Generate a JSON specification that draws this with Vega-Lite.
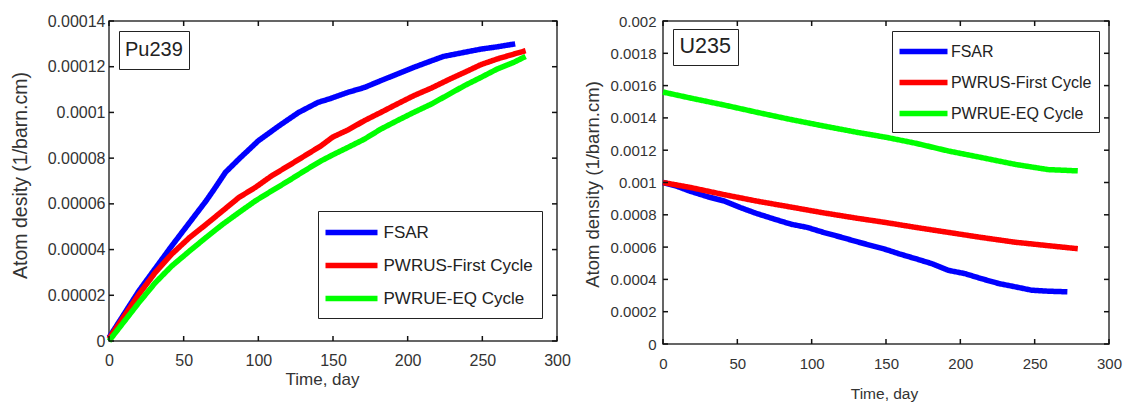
{
  "$schema": "https://vega.github.io/schema/vega-lite/v6.json",
  "background": "white",
  "padding": {"left": 9, "top": 12, "right": 5, "bottom": 5},
  "config": {
    "font": "Liberation Sans",
    "view": {"stroke": "#333", "strokeWidth": 1.5},
    "axis": {"grid": false, "domain": false, "ticks": false, "labelFlush": false, "labelColor": "#333", "titleColor": "#333", "titleFontWeight": "normal", "labelFont": "Liberation Sans", "titleFont": "Liberation Sans"},
    "legend": {"labelColor": "#222", "strokeColor": "#222", "fillColor": "white", "labelLimit": 400}
  },
  "datasets": {
    "xt": [{"t": 0}, {"t": 50}, {"t": 100}, {"t": 150}, {"t": 200}, {"t": 250}, {"t": 300}],
    "ypu": [{"v": 0}, {"v": 0.00002}, {"v": 0.00004}, {"v": 0.00006}, {"v": 0.00008}, {"v": 0.0001}, {"v": 0.00012}, {"v": 0.00014}],
    "yu": [{"v": 0}, {"v": 0.0002}, {"v": 0.0004}, {"v": 0.0006}, {"v": 0.0008}, {"v": 0.001}, {"v": 0.0012}, {"v": 0.0014}, {"v": 0.0016}, {"v": 0.0018}, {"v": 0.002}],
    "pu": [
      {"s": "FSAR", "t": 0, "v": 0.0000015}, {"s": "FSAR", "t": 20, "v": 0.0000219}, {"s": "FSAR", "t": 42, "v": 0.0000416}, {"s": "FSAR", "t": 65, "v": 0.0000613}, {"s": "FSAR", "t": 70, "v": 0.000066}, {"s": "FSAR", "t": 78, "v": 0.0000738}, {"s": "FSAR", "t": 87, "v": 0.0000796}, {"s": "FSAR", "t": 100, "v": 0.0000876}, {"s": "FSAR", "t": 114, "v": 0.0000942}, {"s": "FSAR", "t": 127, "v": 0.0001}, {"s": "FSAR", "t": 140, "v": 0.0001044}, {"s": "FSAR", "t": 148, "v": 0.000106}, {"s": "FSAR", "t": 160, "v": 0.0001088}, {"s": "FSAR", "t": 171, "v": 0.0001109}, {"s": "FSAR", "t": 182, "v": 0.0001139}, {"s": "FSAR", "t": 193, "v": 0.0001168}, {"s": "FSAR", "t": 204, "v": 0.0001197}, {"s": "FSAR", "t": 216, "v": 0.0001226}, {"s": "FSAR", "t": 224, "v": 0.0001245}, {"s": "FSAR", "t": 238, "v": 0.0001263}, {"s": "FSAR", "t": 249, "v": 0.0001277}, {"s": "FSAR", "t": 260, "v": 0.0001287}, {"s": "FSAR", "t": 272, "v": 0.00013},
      {"s": "PWRUS-First Cycle", "t": 0, "v": 0.000001}, {"s": "PWRUS-First Cycle", "t": 20, "v": 0.0000204}, {"s": "PWRUS-First Cycle", "t": 31, "v": 0.00003}, {"s": "PWRUS-First Cycle", "t": 42, "v": 0.000038}, {"s": "PWRUS-First Cycle", "t": 54, "v": 0.0000453}, {"s": "PWRUS-First Cycle", "t": 65, "v": 0.000051}, {"s": "PWRUS-First Cycle", "t": 76, "v": 0.0000569}, {"s": "PWRUS-First Cycle", "t": 87, "v": 0.0000628}, {"s": "PWRUS-First Cycle", "t": 98, "v": 0.0000672}, {"s": "PWRUS-First Cycle", "t": 109, "v": 0.0000723}, {"s": "PWRUS-First Cycle", "t": 120, "v": 0.0000766}, {"s": "PWRUS-First Cycle", "t": 131, "v": 0.000081}, {"s": "PWRUS-First Cycle", "t": 142, "v": 0.0000854}, {"s": "PWRUS-First Cycle", "t": 150, "v": 0.0000893}, {"s": "PWRUS-First Cycle", "t": 160, "v": 0.0000923}, {"s": "PWRUS-First Cycle", "t": 171, "v": 0.0000964}, {"s": "PWRUS-First Cycle", "t": 182, "v": 0.0001}, {"s": "PWRUS-First Cycle", "t": 193, "v": 0.0001037}, {"s": "PWRUS-First Cycle", "t": 204, "v": 0.0001073}, {"s": "PWRUS-First Cycle", "t": 216, "v": 0.0001107}, {"s": "PWRUS-First Cycle", "t": 227, "v": 0.0001142}, {"s": "PWRUS-First Cycle", "t": 238, "v": 0.0001175}, {"s": "PWRUS-First Cycle", "t": 249, "v": 0.0001209}, {"s": "PWRUS-First Cycle", "t": 260, "v": 0.0001234}, {"s": "PWRUS-First Cycle", "t": 271, "v": 0.0001255}, {"s": "PWRUS-First Cycle", "t": 279, "v": 0.000127},
      {"s": "PWRUE-EQ Cycle", "t": 0, "v": 0}, {"s": "PWRUE-EQ Cycle", "t": 20, "v": 0.0000168}, {"s": "PWRUE-EQ Cycle", "t": 31, "v": 0.0000255}, {"s": "PWRUE-EQ Cycle", "t": 42, "v": 0.0000328}, {"s": "PWRUE-EQ Cycle", "t": 54, "v": 0.0000394}, {"s": "PWRUE-EQ Cycle", "t": 65, "v": 0.0000453}, {"s": "PWRUE-EQ Cycle", "t": 76, "v": 0.000051}, {"s": "PWRUE-EQ Cycle", "t": 87, "v": 0.0000562}, {"s": "PWRUE-EQ Cycle", "t": 98, "v": 0.0000613}, {"s": "PWRUE-EQ Cycle", "t": 109, "v": 0.0000657}, {"s": "PWRUE-EQ Cycle", "t": 120, "v": 0.00007}, {"s": "PWRUE-EQ Cycle", "t": 131, "v": 0.0000745}, {"s": "PWRUE-EQ Cycle", "t": 142, "v": 0.0000788}, {"s": "PWRUE-EQ Cycle", "t": 150, "v": 0.0000815}, {"s": "PWRUE-EQ Cycle", "t": 160, "v": 0.0000847}, {"s": "PWRUE-EQ Cycle", "t": 171, "v": 0.0000883}, {"s": "PWRUE-EQ Cycle", "t": 182, "v": 0.0000927}, {"s": "PWRUE-EQ Cycle", "t": 193, "v": 0.0000964}, {"s": "PWRUE-EQ Cycle", "t": 204, "v": 0.0001}, {"s": "PWRUE-EQ Cycle", "t": 216, "v": 0.0001037}, {"s": "PWRUE-EQ Cycle", "t": 227, "v": 0.0001077}, {"s": "PWRUE-EQ Cycle", "t": 238, "v": 0.0001117}, {"s": "PWRUE-EQ Cycle", "t": 249, "v": 0.0001153}, {"s": "PWRUE-EQ Cycle", "t": 260, "v": 0.000119}, {"s": "PWRUE-EQ Cycle", "t": 271, "v": 0.0001219}, {"s": "PWRUE-EQ Cycle", "t": 279, "v": 0.0001245}
    ],
    "u": [
      {"s": "FSAR", "t": 0, "v": 0.001}, {"s": "FSAR", "t": 9, "v": 0.000978}, {"s": "FSAR", "t": 18, "v": 0.000947}, {"s": "FSAR", "t": 30, "v": 0.000912}, {"s": "FSAR", "t": 41, "v": 0.000886}, {"s": "FSAR", "t": 52, "v": 0.000845}, {"s": "FSAR", "t": 63, "v": 0.000808}, {"s": "FSAR", "t": 75, "v": 0.000773}, {"s": "FSAR", "t": 86, "v": 0.000742}, {"s": "FSAR", "t": 97, "v": 0.000722}, {"s": "FSAR", "t": 108, "v": 0.000691}, {"s": "FSAR", "t": 120, "v": 0.000661}, {"s": "FSAR", "t": 131, "v": 0.000632}, {"s": "FSAR", "t": 142, "v": 0.000605}, {"s": "FSAR", "t": 150, "v": 0.000585}, {"s": "FSAR", "t": 159, "v": 0.000558}, {"s": "FSAR", "t": 170, "v": 0.000528}, {"s": "FSAR", "t": 181, "v": 0.000497}, {"s": "FSAR", "t": 192, "v": 0.000456}, {"s": "FSAR", "t": 203, "v": 0.000436}, {"s": "FSAR", "t": 214, "v": 0.000405}, {"s": "FSAR", "t": 226, "v": 0.000374}, {"s": "FSAR", "t": 237, "v": 0.000354}, {"s": "FSAR", "t": 248, "v": 0.000333}, {"s": "FSAR", "t": 259, "v": 0.000327}, {"s": "FSAR", "t": 272, "v": 0.000323},
      {"s": "PWRUS-First Cycle", "t": 0, "v": 0.001}, {"s": "PWRUS-First Cycle", "t": 18, "v": 0.00097}, {"s": "PWRUS-First Cycle", "t": 41, "v": 0.000925}, {"s": "PWRUS-First Cycle", "t": 63, "v": 0.000885}, {"s": "PWRUS-First Cycle", "t": 86, "v": 0.000848}, {"s": "PWRUS-First Cycle", "t": 108, "v": 0.000812}, {"s": "PWRUS-First Cycle", "t": 131, "v": 0.000778}, {"s": "PWRUS-First Cycle", "t": 150, "v": 0.000752}, {"s": "PWRUS-First Cycle", "t": 170, "v": 0.000722}, {"s": "PWRUS-First Cycle", "t": 192, "v": 0.000691}, {"s": "PWRUS-First Cycle", "t": 214, "v": 0.00066}, {"s": "PWRUS-First Cycle", "t": 237, "v": 0.00063}, {"s": "PWRUS-First Cycle", "t": 259, "v": 0.000609}, {"s": "PWRUS-First Cycle", "t": 279, "v": 0.00059},
      {"s": "PWRUE-EQ Cycle", "t": 0, "v": 0.00156}, {"s": "PWRUE-EQ Cycle", "t": 20, "v": 0.00152}, {"s": "PWRUE-EQ Cycle", "t": 41, "v": 0.00148}, {"s": "PWRUE-EQ Cycle", "t": 63, "v": 0.001435}, {"s": "PWRUE-EQ Cycle", "t": 86, "v": 0.00139}, {"s": "PWRUE-EQ Cycle", "t": 108, "v": 0.00135}, {"s": "PWRUE-EQ Cycle", "t": 131, "v": 0.00131}, {"s": "PWRUE-EQ Cycle", "t": 150, "v": 0.00128}, {"s": "PWRUE-EQ Cycle", "t": 170, "v": 0.001243}, {"s": "PWRUE-EQ Cycle", "t": 192, "v": 0.001195}, {"s": "PWRUE-EQ Cycle", "t": 214, "v": 0.001155}, {"s": "PWRUE-EQ Cycle", "t": 237, "v": 0.001112}, {"s": "PWRUE-EQ Cycle", "t": 259, "v": 0.00108}, {"s": "PWRUE-EQ Cycle", "t": 279, "v": 0.001072}
    ]
  },
  "bounds": "flush",
  "spacing": 106,
  "resolve": {
    "scale": {"x": "independent", "y": "independent", "color": "independent", "strokeDash": "independent"},
    "legend": {"color": "independent", "strokeDash": "independent"}
  },
  "hconcat": [
    {
      "width": 448,
      "height": 320,
      "resolve": {"axis": {"x": "independent", "y": "independent"}},
      "layer": [
        {
          "data": {"name": "pu"},
          "mark": {"type": "line", "strokeWidth": 5.5},
          "encoding": {
            "x": {"field": "t", "type": "quantitative", "scale": {"domain": [0, 300], "nice": false},
              "axis": {"orient": "bottom", "values": [0, 50, 100, 150, 200, 250, 300], "labelFontSize": 16, "labelPadding": 11, "title": "Time, day", "titleFontSize": 17, "titleX": 213, "titleY": 38, "titleBaseline": "middle", "titleAlign": "center"}},
            "y": {"field": "v", "type": "quantitative", "scale": {"domain": [0, 0.00014], "nice": false},
              "axis": {"orient": "left", "values": [0, 0.00002, 0.00004, 0.00006, 0.00008, 0.0001, 0.00012, 0.00014], "format": "~g", "labelFontSize": 16, "labelPadding": 4, "title": "Atom desity (1/barn.cm)", "titleFontSize": 19.5, "titleX": -89, "titleY": 154, "titleBaseline": "middle", "titleAlign": "center", "titleAngle": -90}},
            "color": {"field": "s", "type": "nominal",
              "scale": {"domain": ["FSAR", "PWRUS-First Cycle", "PWRUE-EQ Cycle"], "range": ["#0000ff", "#ff0000", "#00ff00"]},
              "legend": {"orient": "none", "legendX": 209, "legendY": 190, "title": null, "direction": "vertical", "symbolType": "M-2.6,0H2.6", "symbolSize": 400, "symbolStrokeWidth": 5.5, "symbolOffset": 12, "labelOffset": 19, "labelFontSize": 17, "rowPadding": 9, "padding": 8.5}},
            "strokeDash": {"datum": "Pu239", "type": "nominal",
              "legend": {"orient": "none", "legendX": 10, "legendY": 10, "title": null, "symbolType": "circle", "symbolOpacity": 0, "symbolSize": 676, "symbolStrokeWidth": 0, "labelOffset": -26, "labelFontSize": 20, "padding": 6}}
          }
        },
        {
          "data": {"name": "xt"},
          "mark": {"type": "rule", "y2Offset": -5, "color": "#111", "strokeWidth": 1.5},
          "encoding": {"x": {"field": "t", "type": "quantitative", "axis": null}, "y": {"datum": 0, "axis": null}, "y2": {"datum": 0}}
        },
        {
          "data": {"name": "xt"},
          "mark": {"type": "rule", "y2Offset": 5, "color": "#111", "strokeWidth": 1.5},
          "encoding": {"x": {"field": "t", "type": "quantitative", "axis": null}, "y": {"datum": 0.00014, "axis": null}, "y2": {"datum": 0.00014}}
        },
        {
          "data": {"name": "ypu"},
          "mark": {"type": "rule", "x2Offset": 5, "color": "#111", "strokeWidth": 1.5},
          "encoding": {"y": {"field": "v", "type": "quantitative", "axis": null}, "x": {"datum": 0, "axis": null}, "x2": {"datum": 0}}
        },
        {
          "data": {"name": "ypu"},
          "mark": {"type": "rule", "x2Offset": -5, "color": "#111", "strokeWidth": 1.5},
          "encoding": {"y": {"field": "v", "type": "quantitative", "axis": null}, "x": {"datum": 300, "axis": null}, "x2": {"datum": 300}}
        }
      ]
    },
    {
      "width": 446,
      "height": 323,
      "resolve": {"axis": {"x": "independent", "y": "independent"}},
      "layer": [
        {
          "data": {"name": "u"},
          "mark": {"type": "line", "strokeWidth": 5.5},
          "encoding": {
            "x": {"field": "t", "type": "quantitative", "scale": {"domain": [0, 300], "nice": false},
              "axis": {"orient": "bottom", "values": [0, 50, 100, 150, 200, 250, 300], "labelFontSize": 15, "labelPadding": 12.5, "title": "Time, day", "titleFontSize": 15.5, "titleX": 221, "titleY": 49, "titleBaseline": "middle", "titleAlign": "center"}},
            "y": {"field": "v", "type": "quantitative", "scale": {"domain": [0, 0.002], "nice": false},
              "axis": {"orient": "left", "values": [0, 0.0002, 0.0004, 0.0006, 0.0008, 0.001, 0.0012, 0.0014, 0.0016, 0.0018, 0.002], "format": "~g", "labelFontSize": 15, "labelPadding": 7, "title": "Atom density (1/barn.cm)", "titleFontSize": 18.5, "titleX": -71, "titleY": 163, "titleBaseline": "middle", "titleAlign": "center", "titleAngle": -90}},
            "color": {"field": "s", "type": "nominal",
              "scale": {"domain": ["FSAR", "PWRUS-First Cycle", "PWRUE-EQ Cycle"], "range": ["#0000ff", "#ff0000", "#00ff00"]},
              "legend": {"orient": "none", "legendX": 229, "legendY": 10, "title": null, "direction": "vertical", "symbolType": "M-2.4,0H2.4", "symbolSize": 400, "symbolStrokeWidth": 5.5, "symbolOffset": 11, "labelOffset": 14.4, "labelFontSize": 16, "rowPadding": 7, "padding": 7.5}},
            "strokeDash": {"datum": "U235", "type": "nominal",
              "legend": {"orient": "none", "legendX": 10, "legendY": 8, "title": null, "symbolType": "circle", "symbolOpacity": 0, "symbolSize": 529, "symbolStrokeWidth": 0, "labelOffset": -23, "labelFontSize": 21.5, "padding": 6.5}}
          }
        },
        {
          "data": {"name": "xt"},
          "mark": {"type": "rule", "y2Offset": -5, "color": "#111", "strokeWidth": 1.5},
          "encoding": {"x": {"field": "t", "type": "quantitative", "axis": null}, "y": {"datum": 0, "axis": null}, "y2": {"datum": 0}}
        },
        {
          "data": {"name": "xt"},
          "mark": {"type": "rule", "y2Offset": 5, "color": "#111", "strokeWidth": 1.5},
          "encoding": {"x": {"field": "t", "type": "quantitative", "axis": null}, "y": {"datum": 0.002, "axis": null}, "y2": {"datum": 0.002}}
        },
        {
          "data": {"name": "yu"},
          "mark": {"type": "rule", "x2Offset": 5, "color": "#111", "strokeWidth": 1.5},
          "encoding": {"y": {"field": "v", "type": "quantitative", "axis": null}, "x": {"datum": 0, "axis": null}, "x2": {"datum": 0}}
        },
        {
          "data": {"name": "yu"},
          "mark": {"type": "rule", "x2Offset": -5, "color": "#111", "strokeWidth": 1.5},
          "encoding": {"y": {"field": "v", "type": "quantitative", "axis": null}, "x": {"datum": 300, "axis": null}, "x2": {"datum": 300}}
        }
      ]
    }
  ]
}
